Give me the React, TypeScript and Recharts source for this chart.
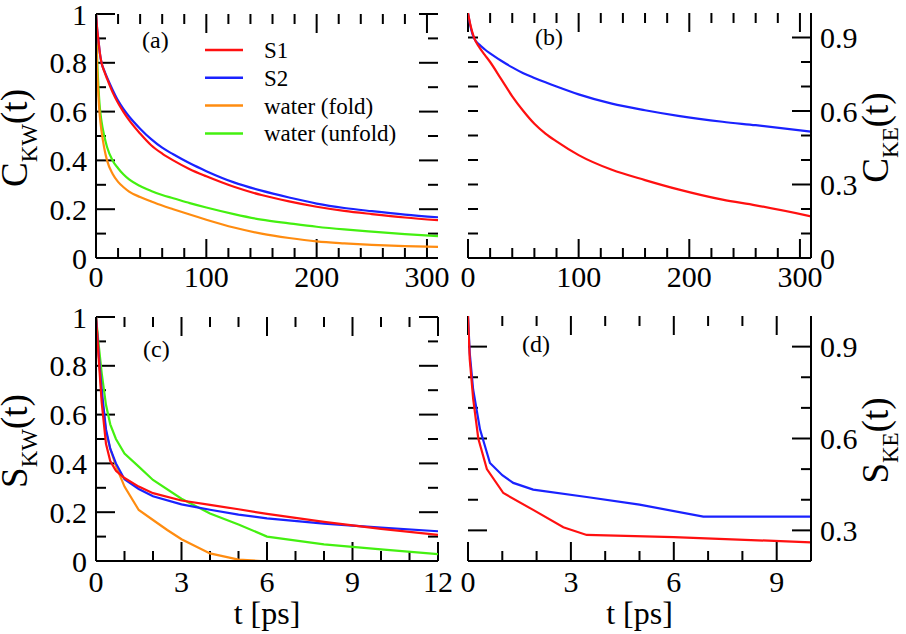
import React from "react";
import { LineChart, Line, XAxis, YAxis, Customized, Label, ReferenceLine, ReferenceArea } from "recharts";

const RED = "#ff1010";
const BLUE = "#1a22ff";
const ORANGE = "#ff8c10";
const GREEN = "#44f010";
const FONT = "Liberation Serif";

// ---------- Panel (a): C_KW(t), t in ps (0..310)
const tA = [0, 1, 2, 3.5, 5, 7.5, 10, 15, 20, 25, 30, 40, 50, 60, 70, 85, 100, 125, 150, 175, 200, 225, 250, 280, 310];
const s1A = [1.0, 0.94, 0.9, 0.84, 0.8, 0.765, 0.735, 0.68, 0.635, 0.598, 0.565, 0.51, 0.462, 0.428, 0.4, 0.364, 0.335, 0.292, 0.258, 0.232, 0.21, 0.193, 0.18, 0.166, 0.155];
const s2A = [1.0, 0.94, 0.9, 0.84, 0.8, 0.768, 0.74, 0.69, 0.645, 0.61, 0.58, 0.53, 0.487, 0.452, 0.425, 0.388, 0.356, 0.31, 0.276, 0.248, 0.223, 0.205, 0.192, 0.178, 0.167];
const foldA = [1.0, 0.78, 0.68, 0.58, 0.52, 0.45, 0.4, 0.345, 0.312, 0.29, 0.272, 0.25, 0.232, 0.215, 0.2, 0.178, 0.157, 0.125, 0.1, 0.082, 0.068, 0.06, 0.054, 0.049, 0.046];
const unfoldA = [1.0, 0.82, 0.72, 0.615, 0.56, 0.5, 0.455, 0.4, 0.368, 0.342, 0.322, 0.295, 0.275, 0.258, 0.245, 0.225, 0.207, 0.18, 0.157, 0.142, 0.128, 0.117, 0.108, 0.098, 0.09];

// ---------- Panel (b): C_KE(t)
const tB = [0, 2, 4, 6, 10, 15, 20, 30, 40, 50, 60, 70, 80, 100, 130, 160, 190, 230, 260, 310];
const s1B = [1.0, 0.955, 0.92, 0.893, 0.862, 0.83, 0.8, 0.73, 0.66, 0.6, 0.548, 0.508, 0.476, 0.42, 0.36, 0.318, 0.28, 0.238, 0.215, 0.17];
const s2B = [1.0, 0.95, 0.915, 0.893, 0.872, 0.852, 0.835, 0.805, 0.778, 0.754, 0.735, 0.717, 0.7, 0.668, 0.63, 0.603, 0.58, 0.556, 0.542, 0.516];

// ---------- Panel (c): S_KW(t), t in ps (0..12)
const tC = [0, 0.1, 0.2, 0.35, 0.5, 0.7, 1, 1.5, 2, 3, 4, 5, 6, 8, 10, 12];
const s1C = [1.0, 0.82, 0.65, 0.48, 0.41, 0.37, 0.34, 0.305, 0.278, 0.248, 0.23, 0.212, 0.193, 0.16, 0.132, 0.107];
const s2C = [1.0, 0.84, 0.7, 0.54, 0.46, 0.4, 0.335, 0.295, 0.265, 0.232, 0.21, 0.19, 0.175, 0.153, 0.137, 0.122];
const unfoldC = [1.0, 0.88, 0.77, 0.64, 0.56, 0.5, 0.44, 0.387, 0.332, 0.255, 0.195, 0.15, 0.1, 0.068, 0.048, 0.028];
const tCFold = [0, 0.1, 0.2, 0.35, 0.5, 0.7, 1, 1.5, 2, 2.5, 3, 4, 5, 5.8];
const foldC = [1.0, 0.84, 0.68, 0.53, 0.46, 0.39, 0.305, 0.209, 0.168, 0.127, 0.089, 0.031, 0.006, 0];

// ---------- Panel (d): S_KE(t), t in ps (0..10)
const tDS1 = [0, 0.05, 0.15, 0.3, 0.55, 1.03, 1.9, 2.78, 3.46, 6, 10];
const s1D = [1.0, 0.86, 0.73, 0.6, 0.5, 0.422, 0.367, 0.31, 0.285, 0.278, 0.261];
const tDS2 = [0, 0.05, 0.15, 0.35, 0.64, 1.0, 1.32, 1.9, 3.46, 5.0, 6.86, 10];
const s2D = [1.0, 0.88, 0.76, 0.63, 0.52, 0.48, 0.455, 0.433, 0.409, 0.384, 0.345, 0.345];

// ---------- ticks
const xMinorAB = [20, 40, 60, 80, 120, 140, 160, 180, 220, 240, 260, 280];
const xMajorsAB = [0, 100, 200, 300];
const xMinorC = [1, 2, 4, 5, 7, 8, 10, 11];
const xMajorsC = [0, 3, 6, 9, 12];
const xMinorD = [1, 2, 4, 5, 7, 8, 10];
const xMajorsD = [0, 3, 6, 9];
const yMinorAC = [0.1, 0.3, 0.5, 0.7, 0.9];
const yMajorsAC = [0, 0.2, 0.4, 0.6, 0.8, 1];
const yMinorB = [0.1, 0.2, 0.4, 0.5, 0.7, 0.8];
const yMajorsB = [0, 0.3, 0.6, 0.9];
const yMinorD = [0.4, 0.5, 0.7, 0.8];
const yMajorsD = [0.3, 0.6, 0.9];

const legendNames = ["S1", "S2", "water (fold)", "water (unfold)"];
const legendColors = [RED, BLUE, ORANGE, GREEN];

const zip = (ts: number[], vs: number[]) => ts.map((t, i) => ({ t, v: vs[i] }));
const fmt = (v: number) => String(Math.round(v * 10) / 10);

const MAJ = 19;
const MIN = 10;
const axisLine = { stroke: "#000", strokeWidth: 2 };
const tickFont = { fontFamily: FONT, fontSize: 30, fill: "#000" };

function vTitle(main: string, sub: string, bx: (vb: any) => number) {
  return (props: any) => {
    const vb = props.viewBox;
    const x = bx(vb);
    const cy = vb.y + vb.height / 2 + 2;
    return (
      <text x={x} y={cy} transform={`rotate(-90 ${x} ${cy})`} textAnchor="middle" fontFamily={FONT} fontSize={37} fill="#000">
        {main}
        <tspan fontSize={23} dy={10}>
          {sub}
        </tspan>
        <tspan dy={-10}>(t)</tspan>
      </text>
    );
  };
}

function xTitle(dyBase: number) {
  return (props: any) => {
    const vb = props.viewBox;
    return (
      <text x={vb.x + vb.width / 2} y={vb.y + dyBase} textAnchor="middle" fontFamily={FONT} fontSize={32} fill="#000">
        t [ps]
      </text>
    );
  };
}

function PanelLabel({ x, y, text }: { x: number; y: number; text: string }) {
  return (
    <text x={x} y={y} fontFamily={FONT} fontSize={24} fill="#000">
      {text}
    </text>
  );
}

function LegendA() {
  return (
    <g>
      {legendNames.map((n, i) => {
        const y = 50 + i * 27.8;
        return (
          <g key={n}>
            <line x1={205} y1={y} x2={243} y2={y} stroke={legendColors[i]} strokeWidth={2.5} />
            <text x={264} y={y + 8} fontFamily={FONT} fontSize={23} fill="#000">
              {n}
            </text>
          </g>
        );
      })}
    </g>
  );
}

// Vertical inward tick stubs (top and bottom edges) as thin filled reference areas.
// pxX / pxY: data units per screen pixel.
function xTickAreas(xMinor: number[], xMajor: number[], yDomain: number[], pxX: number, pxY: number) {
  const [y0, y1] = yDomain;
  const items: [number, number][] = [...xMinor.map((v) => [v, MIN] as [number, number]), ...xMajor.map((v) => [v, MAJ] as [number, number])];
  const out: any[] = [];
  items.forEach(([v, len]) => {
    const w = pxX; // half of 2px
    out.push(
      <ReferenceArea
        key={`xb${v}`}
        xAxisId="b"
        yAxisId="l"
        x1={v - w}
        x2={v + w}
        y1={y0}
        y2={y0 + len * pxY}
        fill="#000"
        fillOpacity={1}
        stroke="none"
        ifOverflow="visible"
      />
    );
    out.push(
      <ReferenceArea
        key={`xt${v}`}
        xAxisId="b"
        yAxisId="l"
        x1={v - w}
        x2={v + w}
        y1={y1 - len * pxY}
        y2={y1}
        fill="#000"
        fillOpacity={1}
        stroke="none"
        ifOverflow="visible"
      />
    );
  });
  return out;
}

// Horizontal reference line at a tick value, drawn only as short inward stubs at left & right.
function yStub(lenL: number, lenR: number) {
  return (p: any) => {
    const y = Number(p.y1);
    const xL = Math.min(Number(p.x1), Number(p.x2));
    const xR = Math.max(Number(p.x1), Number(p.x2));
    return (
      <g>
        <line x1={xL} y1={y} x2={xL + lenL} y2={y} stroke="#000" strokeWidth={2} />
        <line x1={xR} y1={y} x2={xR - lenR} y2={y} stroke="#000" strokeWidth={2} />
      </g>
    );
  };
}

function yTickMarks(yMinor: number[], yMajor: number[], leftMajorLen: number) {
  const out: any[] = [];
  yMinor.forEach((v) =>
    out.push(<ReferenceLine key={`ym${v}`} xAxisId="b" yAxisId="l" y={v} ifOverflow="visible" shape={yStub(MIN, MIN)} />)
  );
  yMajor.forEach((v) =>
    out.push(
      <ReferenceLine key={`yM${v}`} xAxisId="b" yAxisId="l" y={v} ifOverflow="visible" shape={yStub(leftMajorLen, MAJ)} />
    )
  );
  return out;
}

function frameAxes(
  xDomain: number[],
  xMajor: number[],
  xHeight: number,
  xMargin: number,
  yDomain: number[],
  yMajor: number[],
  leftLabeled: boolean,
  leftWidth: number,
  rightWidth: number,
  xLabel: any,
  yLeftLabel: any,
  yRightLabel: any
) {
  return [
    <XAxis
      key="xt"
      xAxisId="t"
      orientation="top"
      type="number"
      dataKey="t"
      domain={xDomain}
      allowDataOverflow
      ticks={xMajor}
      height={0}
      tick={false}
      tickLine={false}
      axisLine={axisLine}
    />,
    <XAxis
      key="xb"
      xAxisId="b"
      orientation="bottom"
      type="number"
      dataKey="t"
      domain={xDomain}
      allowDataOverflow
      ticks={xMajor}
      interval={0}
      height={xHeight}
      tickSize={0}
      tickMargin={xMargin}
      tickLine={false}
      axisLine={axisLine}
      tick={tickFont}
      tickFormatter={fmt}
      label={xLabel ? <Label content={xLabel} /> : undefined}
    />,
    <YAxis
      key="yl"
      yAxisId="l"
      orientation="left"
      type="number"
      domain={yDomain}
      allowDataOverflow
      ticks={yMajor}
      interval={0}
      width={leftWidth}
      tickSize={0}
      tickMargin={9}
      tickLine={false}
      axisLine={axisLine}
      tick={leftLabeled ? tickFont : false}
      tickFormatter={fmt}
      label={yLeftLabel ? <Label content={yLeftLabel} /> : undefined}
    />,
    <YAxis
      key="yr"
      yAxisId="r"
      orientation="right"
      type="number"
      domain={yDomain}
      allowDataOverflow
      ticks={yMajor}
      interval={0}
      width={rightWidth}
      tickSize={0}
      tickMargin={9}
      tickLine={false}
      axisLine={axisLine}
      tick={leftLabeled ? false : tickFont}
      tickFormatter={fmt}
      label={yRightLabel ? <Label content={yRightLabel} /> : undefined}
    />,
  ];
}

function series(data: { t: number; v: number }[], color: string, name: string, type: any) {
  return (
    <Line
      key={name}
      data={data}
      dataKey="v"
      name={name}
      xAxisId="b"
      yAxisId="l"
      type={type}
      stroke={color}
      strokeWidth={2.2}
      dot={false}
      activeDot={false}
      isAnimationActive={false}
    />
  );
}

export default function App() {
  return (
    <div style={{ position: "absolute", left: 0, top: 0, width: 906, height: 634, background: "#fff", overflow: "hidden" }}>
      {/* (a) plot: 342 x 244 px */}
      <div style={{ position: "absolute", left: 0, top: 0 }}>
        <LineChart width={453} height={300} margin={{ top: 14, right: 15, bottom: 0, left: 0 }}>
          {frameAxes([0, 310], xMajorsAB, 42, 8, [0, 1], yMajorsAC, true, 96, 0, null, vTitle("C", "KW", (vb) => vb.x + 27), null)}
          {xTickAreas(xMinorAB, xMajorsAB, [0, 1], 310 / 342, 1 / 244)}
          {yTickMarks(yMinorAC, yMajorsAC, MAJ)}
          {series(zip(tA, unfoldA), GREEN, "water (unfold)", "monotone")}
          {series(zip(tA, foldA), ORANGE, "water (fold)", "monotone")}
          {series(zip(tA, s2A), BLUE, "S2", "monotone")}
          {series(zip(tA, s1A), RED, "S1", "monotone")}
          <Customized
            component={() => (
              <g>
                <PanelLabel x={142} y={48} text="(a)" />
                <LegendA />
              </g>
            )}
          />
        </LineChart>
      </div>
      {/* (b) plot: 343 x 245 px */}
      <div style={{ position: "absolute", left: 453, top: 0 }}>
        <LineChart width={453} height={300} margin={{ top: 13, right: 0, bottom: 0, left: 15 }}>
          {frameAxes([0, 310], xMajorsAB, 42, 8, [0, 1], yMajorsB, false, 0, 95, null, null, vTitle("C", "KE", (vb) => vb.x + 77))}
          {xTickAreas(xMinorAB, xMajorsAB, [0, 1], 310 / 343, 1 / 245)}
          {yTickMarks(yMinorB, yMajorsB, MIN)}
          {series(zip(tB, s2B), BLUE, "S2", "monotone")}
          {series(zip(tB, s1B), RED, "S1", "monotone")}
          <Customized component={() => <PanelLabel x={535 - 453} y={45} text="(b)" />} />
        </LineChart>
      </div>
      {/* (c) plot: 342 x 244 px */}
      <div style={{ position: "absolute", left: 0, top: 300 }}>
        <LineChart width={453} height={334} margin={{ top: 17, right: 15, bottom: 0, left: 0 }}>
          {frameAxes([0, 12], xMajorsC, 73, 10, [0, 1], yMajorsAC, true, 96, 0, xTitle(63), vTitle("S", "KW", (vb) => vb.x + 27), null)}
          {xTickAreas(xMinorC, xMajorsC, [0, 1], 12 / 342, 1 / 244)}
          {yTickMarks(yMinorAC, yMajorsAC, MAJ)}
          {series(zip(tC, unfoldC), GREEN, "water (unfold)", "linear")}
          {series(zip(tCFold, foldC), ORANGE, "water (fold)", "linear")}
          {series(zip(tC, s2C), BLUE, "S2", "linear")}
          {series(zip(tC, s1C), RED, "S1", "linear")}
          <Customized component={() => <PanelLabel x={143} y={357 - 300} text="(c)" />} />
        </LineChart>
      </div>
      {/* (d) plot: 343 x 245 px */}
      <div style={{ position: "absolute", left: 453, top: 300 }}>
        <LineChart width={453} height={334} margin={{ top: 16, right: 0, bottom: 0, left: 15 }}>
          {frameAxes([0, 10], xMajorsD, 73, 10, [0.2, 1], yMajorsD, false, 0, 95, xTitle(63), null, vTitle("S", "KE", (vb) => vb.x + 77))}
          {xTickAreas(xMinorD, xMajorsD, [0.2, 1], 10 / 343, 0.8 / 245)}
          {yTickMarks(yMinorD, yMajorsD, MAJ)}
          {series(zip(tDS2, s2D), BLUE, "S2", "linear")}
          {series(zip(tDS1, s1D), RED, "S1", "linear")}
          <Customized component={() => <PanelLabel x={522 - 453} y={352 - 300} text="(d)" />} />
        </LineChart>
      </div>
    </div>
  );
}
